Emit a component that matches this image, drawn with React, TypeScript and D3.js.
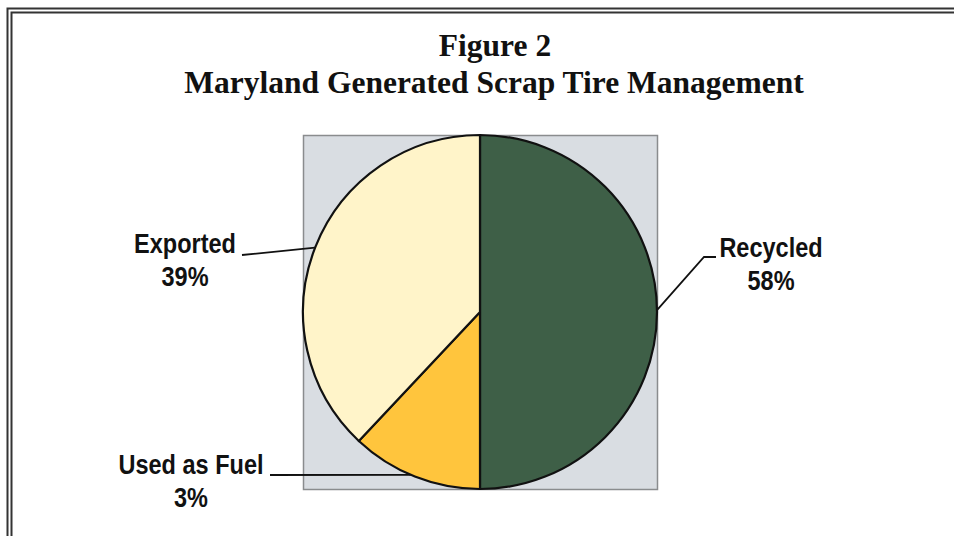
import React, { useEffect, useRef } from "react";
import * as d3 from "d3";

// slice sizes as drawn in the figure (the printed labels differ from the geometry)
const categories = ["Recycled", "Used as Fuel", "Exported"];
const drawnShares = [50, 12, 38];
const labelPercents = ["58%", "3%", "39%"];
const sliceColors = ["#3e5f47", "#ffc53d", "#fff4c9"];

const W = 954;
const H = 536;

const App = () => {
  const svgRef = useRef<SVGSVGElement>(null);

  useEffect(() => {
    const svg = d3.select(svgRef.current);
    svg.selectAll("*").remove();

    // double frame around the figure
    const frame = svg.append("g").attr("fill", "none").attr("stroke", "#333");
    frame.append("path").attr("d", `M7.5,${H} V8.5 H${W}`).attr("stroke-width", 2);
    frame.append("path").attr("d", `M11.5,${H} V12.5 H${W}`).attr("stroke-width", 2);

    // title
    const title = svg.append("g")
      .attr("font-family", "'Liberation Serif', 'Times New Roman', serif")
      .attr("font-weight", "bold")
      .attr("font-size", 31.5)
      .attr("fill", "#111")
      .attr("text-anchor", "middle");
    title.append("text").attr("x", 495).attr("y", 56).text("Figure 2");
    title.append("text").attr("x", 494).attr("y", 93).text("Maryland Generated Scrap Tire Management");

    const cx = 480;
    const cy = 312;
    const r = 177;

    // gray plot area
    svg.append("rect")
      .attr("x", 303.5)
      .attr("y", 135.5)
      .attr("width", 354)
      .attr("height", 354)
      .attr("fill", "#d9dde2")
      .attr("stroke", "#8a8c8e")
      .attr("stroke-width", 1.5);

    const data = categories.map((c, i) => ({ name: c, value: drawnShares[i], pct: labelPercents[i], color: sliceColors[i] }));
    const pie = d3.pie<any>().value(d => d.value).sort(null);
    const arc = d3.arc<any>().innerRadius(0).outerRadius(r);

    const g = svg.append("g").attr("transform", `translate(${cx},${cy})`);
    g.selectAll("path")
      .data(pie(data))
      .enter()
      .append("path")
      .attr("d", arc)
      .attr("fill", d => d.data.color)
      .attr("stroke", "#111")
      .attr("stroke-width", 2.2)
      .attr("stroke-linejoin", "round");

    // leader lines: angle (deg, clockwise from top) where the line meets the rim
    const leaders = [
      { name: "Recycled", angle: 89.4, via: [[704, 257], [716, 257]], tx: 771, ty: 257 },
      { name: "Used as Fuel", angle: 203, via: [[270, 475]], tx: 191, ty: 474 },
      { name: "Exported", angle: 291.3, via: [[242, 255]], tx: 185, ty: 253 },
    ];
    const line = d3.line();
    leaders.forEach(l => {
      const a = (l.angle * Math.PI) / 180;
      const rim: [number, number] = [cx + r * Math.sin(a), cy - r * Math.cos(a)];
      svg.append("path")
        .attr("d", line([rim, ...(l.via as [number, number][])]))
        .attr("fill", "none")
        .attr("stroke", "#111")
        .attr("stroke-width", 1.8);

      const d = data.find(x => x.name === l.name)!;
      const t = svg.append("g")
        .attr("transform", `translate(${l.tx},0) scale(0.84,1)`)
        .attr("font-family", "'Liberation Sans', Arial, sans-serif")
        .attr("font-weight", "bold")
        .attr("font-size", 28)
        .attr("fill", "#111")
        .attr("text-anchor", "middle");
      t.append("text").attr("x", 0).attr("y", l.ty).text(d.name);
      t.append("text").attr("x", 0).attr("y", l.ty + 33).text(d.pct);
    });
  }, []);

  return (
    <svg
      ref={svgRef}
      width={W}
      height={H}
      style={{ position: "absolute", left: 0, top: 0, background: "#fff" }}
    />
  );
};

export default App;
